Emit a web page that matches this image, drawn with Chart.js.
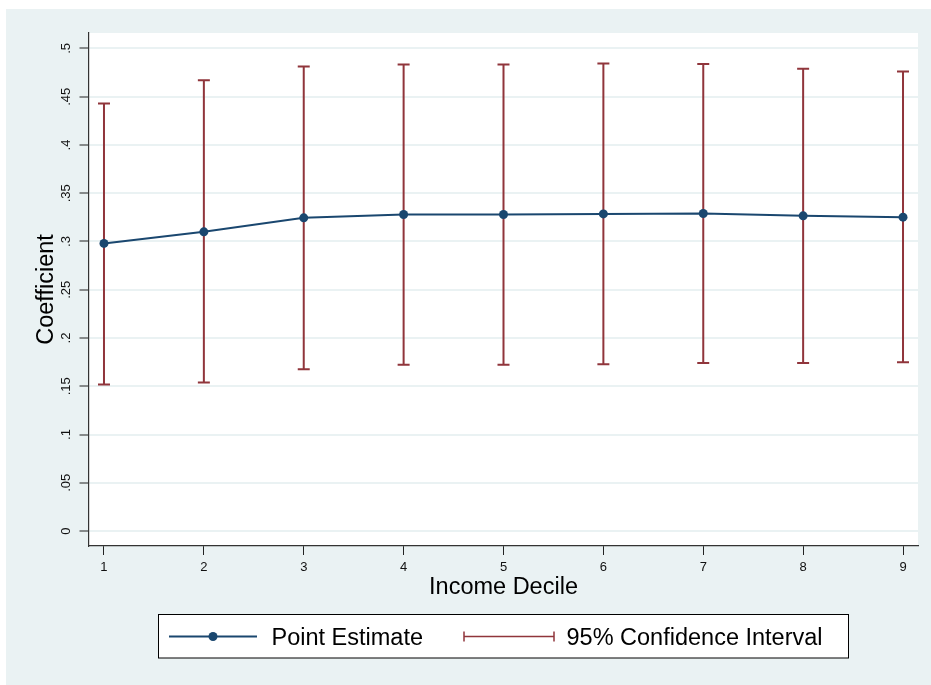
<!DOCTYPE html>
<html>
<head>
<meta charset="utf-8">
<script src="https://cdn.jsdelivr.net/npm/chart.js@4/dist/chart.umd.min.js"></script>
<style>
  body { margin: 0; background: #fff; }
  #wrap { width: 931px; height: 685px; }
</style>
</head>
<body>
<div id="wrap"><canvas id="chart" width="931" height="685"></canvas></div>
<script>
// Data
const deciles = [1, 2, 3, 4, 5, 6, 7, 8, 9];
const pointEst = [0.298, 0.310, 0.3245, 0.328, 0.328, 0.3286, 0.329, 0.3266, 0.3252];
const ciUpper = [0.443, 0.467, 0.4814, 0.4834, 0.4834, 0.4845, 0.484, 0.479, 0.476];
const ciLower = [0.1518, 0.1538, 0.1676, 0.1724, 0.1724, 0.1728, 0.1742, 0.1742, 0.1748];
const yTicks = [0, 0.05, 0.1, 0.15, 0.2, 0.25, 0.3, 0.35, 0.4, 0.45, 0.5];

const FONT = '"Liberation Sans", Arial, Helvetica, sans-serif';
const NAVY = '#1a476f';
const MAROON = '#90353b';
const BG = '#eaf2f3';

// Stata-style tick label: ".45" instead of "0.45"
function fmtTick(v) {
    if (v === 0) return '0';
    return String(+v.toFixed(2)).replace(/^0/, '');
}

// Backgrounds: outer graph region + white plot region
const backgroundPlugin = {
    id: 'background',
    beforeDraw(chart) {
        const ctx = chart.ctx;
        const a = chart.chartArea;
        ctx.save();
        ctx.fillStyle = '#ffffff';
        ctx.fillRect(0, 0, chart.width, chart.height);
        ctx.fillStyle = BG;
        ctx.fillRect(6, 9, chart.width - 6, chart.height - 9);
        ctx.fillStyle = '#ffffff';
        ctx.fillRect(a.left, a.top, a.right - a.left, a.bottom - a.top);
        ctx.restore();
    }
};

// Capped error bars for the confidence interval
const errorBarPlugin = {
    id: 'errorBars',
    beforeDatasetsDraw(chart) {
        const ctx = chart.ctx;
        const xs = chart.scales.x;
        const ys = chart.scales.y;
        ctx.save();
        ctx.strokeStyle = MAROON;
        ctx.lineWidth = 2;
        deciles.forEach((d, i) => {
            const px = xs.getPixelForValue(d);
            const top = ys.getPixelForValue(ciUpper[i]);
            const bot = ys.getPixelForValue(ciLower[i]);
            ctx.beginPath();
            ctx.moveTo(px, top);
            ctx.lineTo(px, bot);
            ctx.moveTo(px - 6, top);
            ctx.lineTo(px + 6, top);
            ctx.moveTo(px - 6, bot);
            ctx.lineTo(px + 6, bot);
            ctx.stroke();
        });
        ctx.restore();
    }
};

// Boxed legend under the plot
const legendBoxPlugin = {
    id: 'legendBox',
    afterDraw(chart) {
        const ctx = chart.ctx;
        ctx.save();
        ctx.fillStyle = '#ffffff';
        ctx.fillRect(158, 614, 690, 44);
        ctx.strokeStyle = '#000000';
        ctx.lineWidth = 1;
        ctx.strokeRect(158.5, 614.5, 690, 43.5);

        // point estimate symbol
        ctx.strokeStyle = NAVY;
        ctx.lineWidth = 2;
        ctx.beginPath();
        ctx.moveTo(169, 636.5);
        ctx.lineTo(257, 636.5);
        ctx.stroke();
        ctx.fillStyle = NAVY;
        ctx.beginPath();
        ctx.arc(213, 636.5, 4.5, 0, Math.PI * 2);
        ctx.fill();

        // CI symbol
        ctx.strokeStyle = MAROON;
        ctx.lineWidth = 1.5;
        ctx.beginPath();
        ctx.moveTo(464, 636.5);
        ctx.lineTo(554, 636.5);
        ctx.moveTo(464, 631.5);
        ctx.lineTo(464, 641.5);
        ctx.moveTo(554, 631.5);
        ctx.lineTo(554, 641.5);
        ctx.stroke();

        ctx.fillStyle = '#000000';
        ctx.font = '23.5px ' + FONT;
        ctx.textBaseline = 'alphabetic';
        ctx.textAlign = 'left';
        ctx.fillText('Point Estimate', 271.5, 644.5);
        ctx.fillText('95% Confidence Interval', 566.5, 644.5);
        ctx.restore();
    }
};

const ctx = document.getElementById('chart').getContext('2d');
const chart = new Chart(ctx, {
    type: 'line',
    data: {
        datasets: [{
            label: 'Point Estimate',
            data: deciles.map((d, i) => ({ x: d, y: pointEst[i] })),
            borderColor: NAVY,
            backgroundColor: NAVY,
            borderWidth: 2,
            pointRadius: 4.5,
            pointBackgroundColor: NAVY,
            pointBorderWidth: 0,
            tension: 0
        }]
    },
    options: {
        responsive: false,
        animation: false,
        layout: { padding: { top: 33, right: 13, bottom: 83, left: 0 } },
        plugins: {
            legend: { display: false },
            tooltip: { enabled: false }
        },
        scales: {
            x: {
                type: 'linear',
                min: 0.85,
                max: 9.15,
                afterBuildTicks: s => { s.ticks = deciles.map(v => ({ value: v })); },
                afterFit: s => { s.height = 56; },
                grid: {
                    drawOnChartArea: false,
                    drawTicks: true,
                    tickLength: 9,
                    tickColor: '#222',
                    tickWidth: 1
                },
                border: { display: true, color: '#333', width: 1.2 },
                ticks: {
                    color: '#111',
                    font: { family: FONT, size: 13 },
                    padding: 5,
                    maxRotation: 0,
                    minRotation: 0
                },
                title: {
                    display: true,
                    text: 'Income Decile',
                    color: '#000',
                    font: { family: FONT, size: 23.5 },
                    padding: { top: 0, bottom: 0 }
                }
            },
            y: {
                type: 'linear',
                min: -0.0155,
                max: 0.516,
                afterBuildTicks: s => { s.ticks = yTicks.map(v => ({ value: v })); },
                afterFit: s => { s.width = 89; },
                grid: {
                    color: BG,
                    lineWidth: 2,
                    drawTicks: true,
                    tickLength: 9.5,
                    tickColor: '#222',
                    tickWidth: 1
                },
                border: { display: true, color: '#333', width: 1.2 },
                ticks: {
                    color: '#111',
                    font: { family: FONT, size: 13 },
                    padding: 4,
                    minRotation: 90,
                    maxRotation: 90,
                    crossAlign: 'center',
                    callback: v => fmtTick(v)
                },
                title: {
                    display: true,
                    text: 'Coefficient',
                    color: '#000',
                    font: { family: FONT, size: 23.5 },
                    padding: { top: 32, bottom: 0 }
                }
            }
        }
    },
    plugins: [backgroundPlugin, errorBarPlugin, legendBoxPlugin]
});
</script>
</body>
</html>
